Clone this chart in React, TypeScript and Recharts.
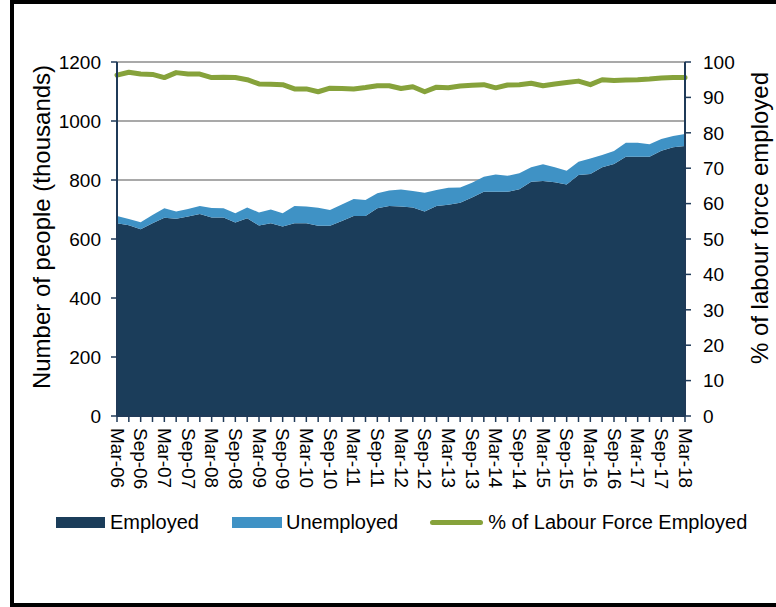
import React from 'react'
import {
    ComposedChart,
    Area,
    Line,
    XAxis,
    YAxis,
    CartesianGrid,
    Legend,
} from 'recharts'

const quarters = [
    'Mar-06', 'Jun-06', 'Sep-06', 'Dec-06',
    'Mar-07', 'Jun-07', 'Sep-07', 'Dec-07',
    'Mar-08', 'Jun-08', 'Sep-08', 'Dec-08',
    'Mar-09', 'Jun-09', 'Sep-09', 'Dec-09',
    'Mar-10', 'Jun-10', 'Sep-10', 'Dec-10',
    'Mar-11', 'Jun-11', 'Sep-11', 'Dec-11',
    'Mar-12', 'Jun-12', 'Sep-12', 'Dec-12',
    'Mar-13', 'Jun-13', 'Sep-13', 'Dec-13',
    'Mar-14', 'Jun-14', 'Sep-14', 'Dec-14',
    'Mar-15', 'Jun-15', 'Sep-15', 'Dec-15',
    'Mar-16', 'Jun-16', 'Sep-16', 'Dec-16',
    'Mar-17', 'Jun-17', 'Sep-17', 'Dec-17',
    'Mar-18',
]

// thousands of people
const employed = [
    653, 647, 633, 653, 672, 669, 676, 685, 673, 673, 656, 670,
    646, 653, 642, 653, 653, 645, 645, 661, 678, 678, 704, 712,
    710, 707, 693, 712, 716, 723, 741, 760, 760, 760, 769, 794,
    797, 792, 785, 817, 820, 843, 854, 879, 879, 879, 899, 911,
    915,
]

const unemployed = [
    25, 21, 24, 28, 32, 24, 26, 27, 32, 31, 31, 37,
    44, 47, 45, 59, 57, 61, 53, 56, 58, 54, 51, 52,
    58, 56, 64, 54, 58, 52, 50, 51, 59, 54, 54, 49,
    56, 51, 46, 45, 53, 42, 44, 47, 47, 42, 40, 38,
    41,
]

// % of labour force employed
const pctEmployed = [
    96.3, 97.1, 96.6, 96.5, 95.6, 97.0, 96.6, 96.6, 95.6, 95.7, 95.6, 95.0,
    93.8, 93.7, 93.6, 92.4, 92.4, 91.6, 92.6, 92.5, 92.4, 92.8, 93.3, 93.3,
    92.5, 93.0, 91.6, 92.9, 92.7, 93.2, 93.4, 93.6, 92.7, 93.5, 93.6, 94.0,
    93.3, 93.8, 94.2, 94.6, 93.6, 95.0, 94.8, 94.9, 95.0, 95.2, 95.5, 95.6,
    95.6,
]

const leftTicks = [0, 200, 400, 600, 800, 1000, 1200]
const rightTicks = [0, 10, 20, 30, 40, 50, 60, 70, 80, 90, 100]

const data = quarters.map((q, i) => ({
    quarter: q,
    employed: employed[i],
    unemployed: unemployed[i],
    pct: pctEmployed[i],
}))

const FONT = '"Liberation Sans", Arial, sans-serif'
const NAVY = '#1B3D5A'
const BLUE = '#3F92C5'
const GREEN = '#86A23B'
const AXIS = '#1F3A58'

const XTick = (props: any) => {
    const { x, y, payload } = props
    const v: string = payload.value
    if (!(v.startsWith('Mar') || v.startsWith('Sep'))) return null
    return (
        <text
            x={x}
            y={y}
            transform={`rotate(90 ${x} ${y})`}
            textAnchor="start"
            dominantBaseline="central"
            fontSize={19}
            fontFamily={FONT}
            fill="#000"
        >
            {v}
        </text>
    )
}

const LegendContent = () => (
    <div
        style={{
            display: 'flex',
            alignItems: 'center',
            paddingLeft: 56,
            paddingTop: 11,
            fontFamily: FONT,
            fontSize: 20,
            color: '#000',
        }}
    >
        <span style={{ width: 49, height: 11, background: NAVY, marginRight: 5 }} />
        <span style={{ marginRight: 33 }}>Employed</span>
        <span style={{ width: 50, height: 11, background: BLUE, marginRight: 4 }} />
        <span style={{ marginRight: 32 }}>Unemployed</span>
        <span style={{ width: 53, height: 5, background: GREEN, borderRadius: 3, marginRight: 5 }} />
        <span>% of Labour Force Employed</span>
    </div>
)

export default function App() {
    return (
        <div style={{ position: 'absolute', left: 0, top: 0, width: 776, height: 607, overflow: 'hidden', background: '#fff' }}>
            <div
                style={{
                    position: 'absolute',
                    left: 10,
                    top: 0,
                    width: 800,
                    height: 607,
                    border: '4px solid #000',
                    boxSizing: 'border-box',
                }}
            />
            <div style={{ position: 'absolute', left: 0, top: 0 }}>
                <ComposedChart
                    width={776}
                    height={607}
                    data={data}
                    margin={{ top: 62, right: 0, bottom: 67, left: 0 }}
                >
                    <CartesianGrid horizontal vertical={false} stroke="#8c8c8c" strokeWidth={1.5} yAxisId="left" />
                    <XAxis
                        dataKey="quarter"
                        scale="point"
                        padding={{ left: 0, right: 0 }}
                        interval={0}
                        height={84}
                        tick={<XTick />}
                        tickSize={6}
                        tickMargin={6}
                        axisLine={{ stroke: AXIS, strokeWidth: 2 }}
                        tickLine={{ stroke: AXIS, strokeWidth: 1.5 }}
                    />
                    <YAxis
                        yAxisId="left"
                        width={117}
                        domain={[0, 1200]}
                        ticks={leftTicks}
                        interval={0}
                        tickSize={6}
                        tickMargin={10}
                        tick={{ fontSize: 19, fontFamily: FONT, fill: '#000' }}
                        axisLine={{ stroke: AXIS, strokeWidth: 2 }}
                        tickLine={{ stroke: AXIS, strokeWidth: 1.5 }}
                        label={{
                            content: () => (
                                <text
                                    x={41}
                                    y={227}
                                    transform="rotate(-90 41 227)"
                                    textAnchor="middle"
                                    dominantBaseline="central"
                                    fontSize={24}
                                    fontFamily={FONT}
                                    fill="#000"
                                >
                                    Number of people (thousands)
                                </text>
                            ),
                        }}
                    />
                    <YAxis
                        yAxisId="right"
                        orientation="right"
                        width={91}
                        domain={[0, 100]}
                        ticks={rightTicks}
                        interval={0}
                        tickSize={6}
                        tickMargin={12}
                        tick={{ fontSize: 19, fontFamily: FONT, fill: '#000' }}
                        axisLine={{ stroke: AXIS, strokeWidth: 2 }}
                        tickLine={{ stroke: AXIS, strokeWidth: 1.5 }}
                        label={{
                            content: () => (
                                <text
                                    x={759}
                                    y={218}
                                    transform="rotate(-90 759 218)"
                                    textAnchor="middle"
                                    dominantBaseline="central"
                                    fontSize={24}
                                    fontFamily={FONT}
                                    fill="#000"
                                >
                                    % of labour force employed
                                </text>
                            ),
                        }}
                    />
                    <Area
                        yAxisId="left"
                        type="linear"
                        dataKey="employed"
                        stackId="people"
                        fill={NAVY}
                        fillOpacity={1}
                        stroke="none"
                        isAnimationActive={false}
                    />
                    <Area
                        yAxisId="left"
                        type="linear"
                        dataKey="unemployed"
                        stackId="people"
                        fill={BLUE}
                        fillOpacity={1}
                        stroke="none"
                        isAnimationActive={false}
                    />
                    <Line
                        yAxisId="right"
                        type="linear"
                        dataKey="pct"
                        stroke={GREEN}
                        strokeWidth={5}
                        strokeLinecap="round"
                        strokeLinejoin="round"
                        dot={false}
                        activeDot={false}
                        isAnimationActive={false}
                    />
                    <Legend verticalAlign="bottom" height={40} content={<LegendContent />} />
                </ComposedChart>
            </div>
        </div>
    )
}
